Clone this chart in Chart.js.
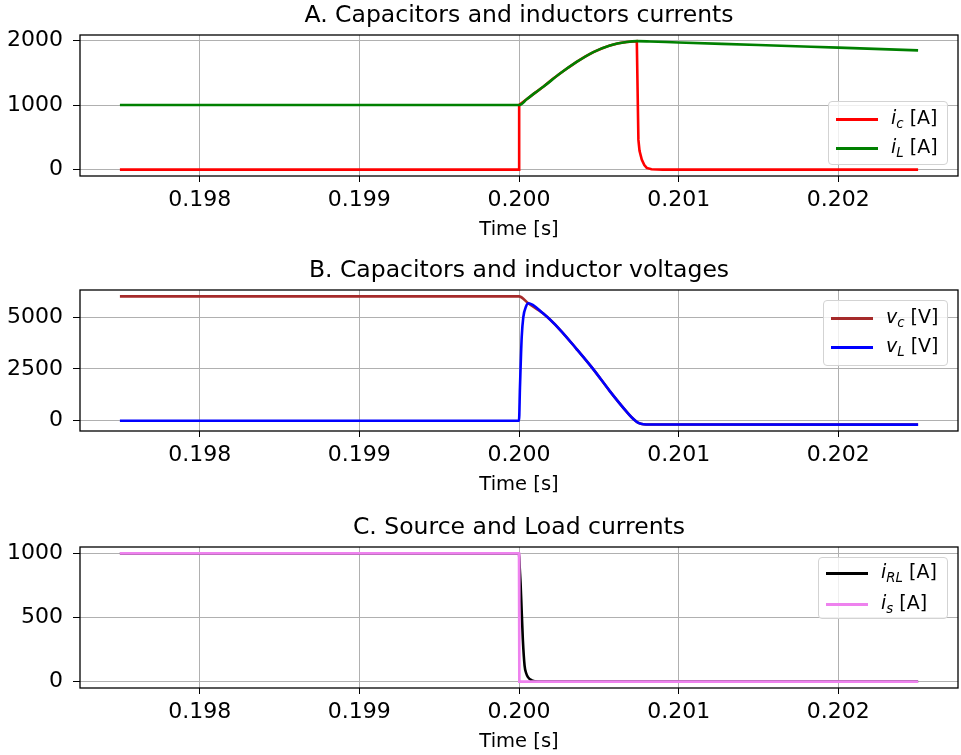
<!DOCTYPE html>
<html>
<head>
<meta charset="utf-8">
<script src="https://cdn.jsdelivr.net/npm/chart.js@4/dist/chart.umd.min.js"></script>
<style>
  html, body { margin: 0; padding: 0; background: #fff; overflow: hidden; }
  body { width: 961px; height: 755px; position: relative; font-family: 'DejaVu Sans', sans-serif; }
  canvas { position: absolute; left: 0; }
  .leg { position: absolute; box-sizing: border-box; border: 1px solid #d3d3d3; border-radius: 4px; background: rgba(255,255,255,0.8); }
  .leg .ln { position: absolute; left: 7px; width: 42px; height: 3px; margin-top: -1.5px; }
  .leg .lbl { position: absolute; left: 62px; font-size: 19px; line-height: 19px; margin-top: -11px; white-space: nowrap; color: #000; }
  .leg sub { font-size: 70%; font-style: italic; vertical-align: -0.3em; line-height: 0; }
</style>
</head>
<body>
<canvas id="chartA" width="961" height="250" style="top:0px"></canvas>
<canvas id="chartB" width="961" height="250" style="top:255px"></canvas>
<canvas id="chartC" width="961" height="250" style="top:512px"></canvas>

<div class="leg" style="left:828px;top:101px;width:120px;height:64px">
  <span class="ln" style="top:17px;background:#ff0000"></span><span class="lbl" style="top:17px"><i>i</i><sub>c</sub> [A]</span>
  <span class="ln" style="top:46px;background:#008000"></span><span class="lbl" style="top:46px"><i>i</i><sub>L</sub> [A]</span>
</div>
<div class="leg" style="left:823px;top:300px;width:125px;height:66px">
  <span class="ln" style="top:17px;background:#a52a2a"></span><span class="lbl" style="top:17px"><i>v</i><sub>c</sub> [V]</span>
  <span class="ln" style="top:46px;background:#0000ff"></span><span class="lbl" style="top:46px"><i>v</i><sub>L</sub> [V]</span>
</div>
<div class="leg" style="left:818px;top:557px;width:130px;height:62px">
  <span class="ln" style="top:15px;background:#000000"></span><span class="lbl" style="top:15px"><i>i</i><sub>RL</sub> [A]</span>
  <span class="ln" style="top:46px;background:#ee82ee"></span><span class="lbl" style="top:46px"><i>i</i><sub>s</sub> [A]</span>
</div>

<script>
// x ticks shared by all three panels
const timeTicks = [0.198, 0.199, 0.200, 0.201, 0.202];

// A. capacitor / inductor currents
const tIc = [0.19750, 0.20000, 0.200001, 0.20005, 0.20010, 0.200152, 0.200205, 0.200257, 0.200309, 0.200361, 0.200414, 0.200466, 0.200518, 0.200570, 0.200623, 0.200675, 0.200738, 0.200748, 0.200755, 0.200769, 0.200785, 0.200800, 0.200830, 0.200900, 0.202500];
const ic  = [0, 0, 1000, 1092, 1188, 1282, 1390, 1487, 1580, 1667, 1748, 1820, 1875, 1923, 1955, 1976, 1989, 460, 290, 154, 70, 26, 6, 0, 0];
const tIl = [0.19750, 0.20000, 0.20005, 0.20010, 0.200152, 0.200257, 0.200361, 0.200466, 0.200570, 0.200675, 0.200738, 0.200820, 0.201000, 0.201500, 0.202000, 0.202500];
const iL  = [1000, 1000, 1092, 1188, 1282, 1487, 1667, 1820, 1923, 1976, 1989, 1984, 1968, 1930, 1888, 1846];
const ticksA = [0, 1000, 2000];

// B. capacitor / inductor voltages
const tVc = [0.19750, 0.20000, 0.200058, 0.200152, 0.200257, 0.200361, 0.200466, 0.200570, 0.200675, 0.200720, 0.200748, 0.200779, 0.200820, 0.202500];
const vC  = [6000, 6000, 5670, 5170, 4390, 3460, 2480, 1420, 430, 60, -100, -170, -182, -185];
const tVl = [0.19750, 0.20000, 0.200006, 0.200017, 0.200027, 0.200044, 0.200058, 0.200152, 0.200257, 0.200361, 0.200466, 0.200570, 0.200675, 0.200720, 0.200748, 0.200779, 0.200820, 0.202500];
const vL  = [0, 0, 1600, 4040, 5000, 5510, 5670, 5170, 4390, 3460, 2480, 1420, 430, 60, -100, -170, -182, -185];
const ticksB = [0, 2500, 5000];

// C. source / load currents
const tRl = [0.19750, 0.20000, 0.200004, 0.200010, 0.200014, 0.200024, 0.200035, 0.200045, 0.200056, 0.200080, 0.200120, 0.202500];
const iRL = [1000, 1000, 900, 760, 640, 330, 125, 65, 35, 10, 0, 0];
const tIs = [0.19750, 0.20000, 0.200002, 0.202500];
const iS  = [1000, 1000, 0, 0];
const ticksC = [0, 500, 1000];

const FONT = 'DejaVu Sans';

const pts = (xs, ys) => xs.map((x, i) => ({ x, y: ys[i] }));

// axes frame on all four sides + title centred over the plot area (like matplotlib)
const framePlugin = {
  id: 'frame',
  afterDraw(chart) {
    const a = chart.chartArea, ctx = chart.ctx;
    ctx.save();
    ctx.strokeStyle = '#000';
    ctx.lineWidth = 1.3;
    ctx.strokeRect(a.left, a.top, a.right - a.left, a.bottom - a.top);
    const t = chart.options.plugins.frame.title;
    ctx.fillStyle = '#000';
    ctx.font = `23.5px '${FONT}'`;
    ctx.textAlign = 'center';
    ctx.textBaseline = 'middle';
    ctx.fillText(t, (a.left + a.right) / 2, 16);
    ctx.restore();
  }
};

function line(label, data, color, order, smooth) {
  return {
    label, data, order,
    borderColor: color,
    backgroundColor: color,
    borderWidth: 2.6,
    pointRadius: 0,
    fill: false,
    tension: 0,
    cubicInterpolationMode: smooth ? 'monotone' : 'default'
  };
}

function makeChart(id, title, datasets, yMin, yMax, yTicks) {
  return new Chart(document.getElementById(id), {
    type: 'line',
    data: { datasets },
    options: {
      responsive: false,
      animation: false,
      layout: { padding: { left: 0, right: 3, top: 35, bottom: 0 } },
      plugins: {
        legend: { display: false },
        tooltip: { enabled: false },
        title: { display: false },
        frame: { title }
      },
      scales: {
        x: {
          type: 'linear', min: 0.19725, max: 0.20275,
          afterBuildTicks: s => { s.ticks = timeTicks.map(v => ({ value: v })); },
          afterFit: s => { s.height = 74; },
          ticks: { color: '#000', padding: 5, maxRotation: 0, font: { family: FONT, size: 22 }, callback: v => v.toFixed(3) },
          grid: { color: '#b0b0b0', lineWidth: 1, tickColor: '#000', tickLength: 6 },
          border: { display: false },
          title: { display: true, text: 'Time [s]', color: '#000', font: { family: FONT, size: 19.5 }, padding: { top: 0, bottom: 8 } }
        },
        y: {
          type: 'linear', min: yMin, max: yMax,
          afterBuildTicks: s => { s.ticks = yTicks.map(v => ({ value: v })); },
          afterFit: s => { s.width = 80; },
          ticks: { color: '#000', padding: 10, font: { family: FONT, size: 22 }, callback: v => String(v) },
          grid: { color: '#b0b0b0', lineWidth: 1, tickColor: '#000', tickLength: 7 },
          border: { display: false }
        }
      }
    },
    plugins: [framePlugin]
  });
}

makeChart('chartA', 'A. Capacitors and inductors currents', [
  line('ic [A]', pts(tIc, ic), '#ff0000', 1, false),
  line('iL [A]', pts(tIl, iL), '#008000', 0, true)
], -99, 2084, ticksA);

makeChart('chartB', 'B. Capacitors and inductor voltages', [
  line('vc [V]', pts(tVc, vC), '#a52a2a', 1, true),
  line('vL [V]', pts(tVl, vL), '#0000ff', 0, true)
], -494, 6309, ticksB);

makeChart('chartC', 'C. Source and Load currents', [
  line('iRL [A]', pts(tRl, iRL), '#000000', 1, true),
  line('is [A]', pts(tIs, iS), '#ee82ee', 0, false)
], -50, 1050, ticksC);
</script>
</body>
</html>
